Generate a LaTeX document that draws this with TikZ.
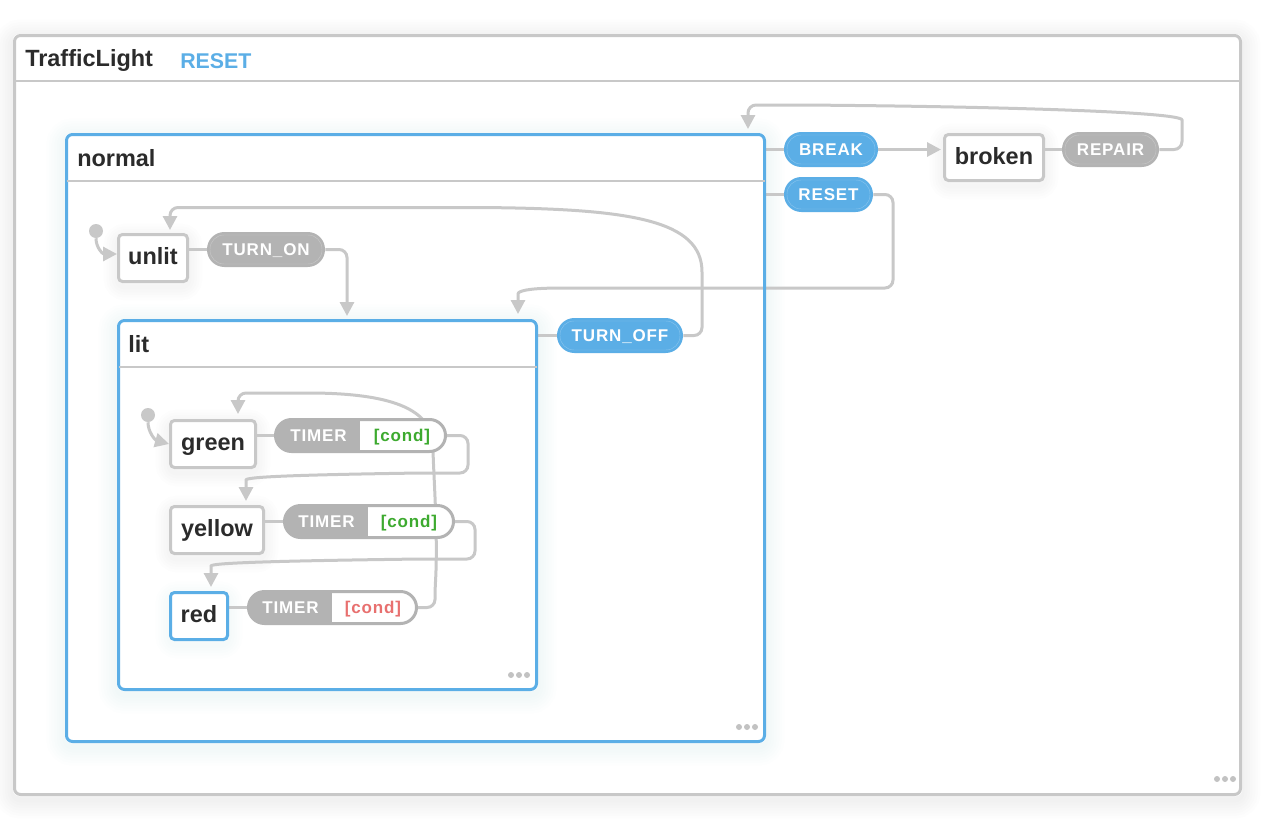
\documentclass[tikz,border=0pt]{standalone}
\usepackage{fontspec}
\setmainfont{Liberation Sans}
\newfontfamily\evfont[LetterSpace=5]{Liberation Sans}
\usetikzlibrary{arrows.meta}
\definecolor{cgray}{HTML}{C8C8C8}
\definecolor{pgray}{HTML}{B3B3B3}
\definecolor{cblue}{HTML}{5BAEE6}
\definecolor{tdark}{HTML}{2B2B2B}
\definecolor{condg}{HTML}{3DAA2F}
\definecolor{condr}{HTML}{E8706F}
\definecolor{dotc}{HTML}{C2C2C2}
\pgfdeclarelayer{back}
\pgfdeclarelayer{mid}
\pgfsetlayers{back,mid,main}
\tikzset{
 conn/.style={draw=cgray, line width=2.25pt, rounded corners=6pt},
 arr/.style={conn, -{Triangle[length=10.5pt,width=10.5pt]}},
 stnode/.style={draw=cgray, line width=2.25pt, fill=white, rounded corners=3pt, inner sep=0pt,
   minimum height=35.25pt, text height=13pt, text depth=3pt, text=tdark,
   font=\bfseries\fontsize{17.6}{20}\selectfont},
 cbox/.style={draw=cblue, line width=2.25pt, rounded corners=4.5pt, inner sep=0pt},
 hdr/.style={anchor=base west, inner sep=0pt, text=tdark, font=\bfseries\fontsize{17.6}{20}\selectfont},
 pill/.style={rounded corners=13pt, minimum height=26.25pt, inner sep=0pt, text height=9.2pt, text depth=0pt,
   text=white, font=\evfont\bfseries\fontsize{12.75}{14}\selectfont},
 ring/.style={draw=white, draw opacity=0.25, line width=0.35pt, rounded corners=10.5pt, minimum height=21.75pt, inner sep=0pt},
 tpill/.style={draw=pgray, fill=white, line width=2.25pt, rounded corners=12pt, minimum height=24pt, inner sep=0pt},
 evt/.style={inner sep=0pt, text height=9.2pt, text depth=0pt, font=\evfont\bfseries\fontsize{12.75}{14}\selectfont},
 initdot/.style={circle, fill=cgray, minimum size=10.5pt, inner sep=0pt},
 hline/.style={draw=cgray, line width=1.1pt},
 moredot/.style={circle, fill=dotc, minimum size=4.5pt, inner sep=0pt},
 glowline/.style={draw opacity=0.009, rounded corners=6pt, transform canvas={yshift=-3pt}},
}
\begin{document}
\begin{tikzpicture}[x=0.75pt,y=-0.75pt]
\useasboundingbox (0,0) rectangle (1286,832);

% ---------- compound states
\node[cbox, draw=cgray, minimum width=919.5pt, minimum height=569.25pt] (tl) at (627.5,415) {};
\draw[hline] (14.5,81) -- (1240.5,81);
\node[hdr] (tltitle) at (25,66) {TrafficLight};
\node[hdr, text=cblue, font=\bfseries\fontsize{16}{18}\selectfont] (tlreset) at (180,68) {RESET};

\node[cbox, minimum width=523.5pt, minimum height=455.25pt] (normal) at (415.5,438) {};
\draw[hline] (66.5,181) -- (764.5,181);
\node[hdr] (normalt) at (77,166) {normal};

\node[cbox, minimum width=313.5pt, minimum height=276.75pt] (lit) at (327.5,505) {};
\draw[hline] (118.5,367) -- (536.5,367);
\node[hdr] (litt) at (128,352) {lit};

% ---------- atomic states
\node[stnode, minimum width=51.75pt] (unlit) at (153,258) {unlit};
\node[stnode, minimum width=74.25pt, minimum height=34.5pt] (broken) at (994,157.5) {broken};
\node[stnode, minimum width=63.75pt] (green) at (213,444) {green};
\node[stnode, minimum width=69.75pt] (yellow) at (217,530) {yellow};
\node[stnode, draw=cblue, minimum width=42.75pt] (red) at (199,616) {red};

\node[initdot] (ini1) at (96,231) {};
\node[initdot] (ini2) at (148,415) {};

% ---------- event pills
\node[pill, fill=cblue, minimum width=70.5pt] (brk) at (831,149.5) {BREAK};
\node[ring, minimum width=66pt] (brkr) at (brk) {};
\node[pill, fill=cblue, minimum width=66.75pt] (rst) at (828.5,194.5) {RESET};
\node[ring, minimum width=62.25pt] (rstr) at (rst) {};
\node[pill, fill=cblue, minimum width=94.5pt] (toff) at (620,335.5) {TURN\_OFF};
\node[ring, minimum width=90pt] (toffr) at (toff) {};
\node[pill, fill=pgray, minimum width=88.5pt] (ton) at (266,249.5) {TURN\_ON};
\node[ring, minimum width=84pt] (tonr) at (ton) {};
\node[pill, fill=pgray, minimum width=72.75pt] (rep) at (1110.5,149.5) {REPAIR};
\node[ring, minimum width=68.25pt] (repr) at (rep) {};

% ---------- timer pills
\node[tpill, minimum width=127.5pt] (tg) at (360.5,435.5) {};
\begin{scope}
\clip[rounded corners=12pt] (275.5,419.5) rectangle (445.5,451.5);
\fill[pgray] (270,414) rectangle (360,457);
\end{scope}
\node[evt, text=white] (tgev) at (318.5,435.5) {TIMER};
\node[evt, text=condg] (tgc) at (402,435.5) {[cond]};

\node[tpill, minimum width=126.75pt] (ty) at (369,521.5) {};
\begin{scope}
\clip[rounded corners=12pt] (284.5,505.5) rectangle (453.5,537.5);
\fill[pgray] (279,500) rectangle (368,543);
\end{scope}
\node[evt, text=white] (tyev) at (326.5,521.5) {TIMER};
\node[evt, text=condg] (tyc) at (409,521.5) {[cond]};

\node[tpill, minimum width=126pt] (tr) at (332.5,607.5) {};
\begin{scope}
\clip[rounded corners=12pt] (248.5,591.5) rectangle (416.5,623.5);
\fill[pgray] (243,586) rectangle (332,629);
\end{scope}
\node[evt, text=white] (trev) at (290.5,607.5) {TIMER};
\node[evt, text=condr] (trc) at (373,607.5) {[cond]};

% ---------- more dots
\node[moredot] (la) at (511,675) {};
\node[moredot] (lb) at (519,675) {};
\node[moredot] (lc) at (527,675) {};
\node[moredot] (na) at (739,727) {};
\node[moredot] (nb) at (747,727) {};
\node[moredot] (nc) at (755,727) {};
\node[moredot] (ta) at (1217,779) {};
\node[moredot] (tb) at (1225,779) {};
\node[moredot] (tc) at (1233,779) {};

% ---------- connectors
\begin{pgfonlayer}{mid}
\draw[arr] (ini1) .. controls (96,248) and (103,254) .. ([yshift=3pt]unlit.west);
\draw[conn] (unlit.east |- ton.west) -- (ton.west);
\draw[arr] (ton.east) -- (347,249.5) -- (347,316);
\draw[conn] (lit.east |- toff.west) -- (toff.west);
\draw[arr] (toff.east) -- (702,335.5) -- (702,280) .. controls (702,220) and (630,209) .. (480,207.5) -- (170,207.5) -- (170,230);
\draw[conn] (normal.east |- rst.west) -- (rst.west);
\draw[arr] (rst.east) -- (893,194.5) -- (893,288) -- (560,288) .. controls (528,288.5) and (518,291) .. (518,302) -- (518,314);
\draw[conn] (normal.east |- brk.west) -- (brk.west);
\draw[arr] (brk.east) -- (941,149.5);
\draw[conn] (broken.east |- rep.west) -- (rep.west);
\draw[arr] (rep.east) -- (1182,149.5) -- (1182,128) .. controls (1182,112) and (1000,106.5) .. (800,105) -- (748,105) -- (748,129);
\draw[arr] (ini2) .. controls (148,432) and (155,440) .. (green.west);
\draw[conn] (green.east |- tg.west) -- (tg.west);
\draw[arr] (tg.east) -- (468,435.5) -- (468,473) -- (420,473) .. controls (290,475) and (246,477) .. (246,488) -- (246,501);
\draw[conn] (yellow.east |- ty.west) -- (ty.west);
\draw[arr] (ty.east) -- (475,521.5) -- (475,559) -- (420,559) .. controls (270,561) and (211,563) .. (211,574) -- (211,587);
\draw[conn] (red.east |- tr.west) -- (tr.west);
\draw[arr] (tr.east) -- (435,607.5) -- (435,590) .. controls (438,540) and (434,480) .. (433,450) .. controls (430,405) and (380,393) .. (300,393) -- (238,393) -- (238,414);
\end{pgfonlayer}

% ---------- soft shadows
\begin{pgfonlayer}{back}
\foreach \w in {4,8,...,28} {\draw[glowline, black, line width=\w pt] (tl.north west) rectangle (tl.south east);}
\fill[white, rounded corners=4.5pt] (tl.north west) rectangle (tl.south east);
\foreach \w in {4,8,...,28} {\draw[glowline, cblue, line width=\w pt] (normal.north west) rectangle (normal.south east);}
\fill[white, rounded corners=4.5pt] (normal.north west) rectangle (normal.south east);
\foreach \w in {4,8,...,28} {\draw[glowline, cblue, line width=\w pt] (lit.north west) rectangle (lit.south east);}
\fill[white, rounded corners=4.5pt] (lit.north west) rectangle (lit.south east);
\foreach \n in {unlit,broken,green,yellow} {
  \foreach \w in {4,8,...,20} {\draw[glowline, black, line width=\w pt] (\n.north west) rectangle (\n.south east);}
}
\foreach \w in {4,8,...,20} {\draw[glowline, cblue, line width=\w pt] (red.north west) rectangle (red.south east);}
\end{pgfonlayer}
\end{tikzpicture}
\end{document}
